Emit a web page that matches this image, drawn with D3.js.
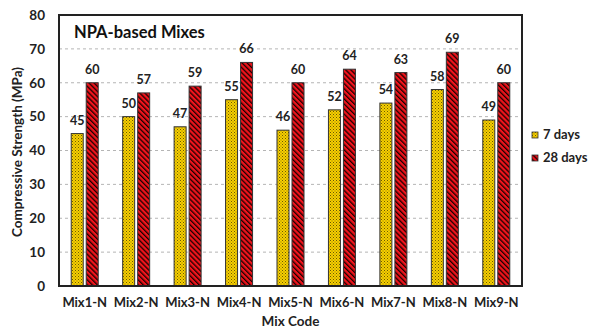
<!DOCTYPE html>
<html>
<head>
<meta charset="utf-8">
<script src="https://cdn.jsdelivr.net/npm/d3@7/dist/d3.min.js"></script>
<style>
  html, body { margin: 0; padding: 0; background: #fff; }
  svg { display: block; font-family: Lato, "Open Sans", sans-serif; }
</style>
</head>
<body>
<svg id="chart" width="592" height="331"></svg>
<script>
// Compressive strength of NPA-based mixes at 7 and 28 days
const mixes = ["Mix1-N", "Mix2-N", "Mix3-N", "Mix4-N", "Mix5-N", "Mix6-N", "Mix7-N", "Mix8-N", "Mix9-N"];
const days7 = [45, 50, 47, 55, 46, 52, 54, 58, 49];
const days28 = [60, 57, 59, 66, 60, 64, 63, 69, 60];
const seriesNames = ["7 days", "28 days"];
const yTicks = [0, 10, 20, 30, 40, 50, 60, 70, 80];

const svg = d3.select("#chart");
const m = { left: 59, right: 522, top: 15, bottom: 286 };

const defs = svg.append("defs");
// yellow fill with a fine dark dot grid
const pY = defs.append("pattern").attr("id", "dotsY").attr("patternUnits", "userSpaceOnUse")
  .attr("width", 3).attr("height", 3);
pY.append("rect").attr("width", 3).attr("height", 3).attr("fill", "#f7cf00");
pY.append("rect").attr("x", 0).attr("y", 0).attr("width", 1).attr("height", 1).attr("fill", "#6b5a00");
pY.append("rect").attr("x", 1.5).attr("y", 1.5).attr("width", 1).attr("height", 1).attr("fill", "#8a7300");
// red fill with dark diagonal hatching
const pR = defs.append("pattern").attr("id", "hatchR").attr("patternUnits", "userSpaceOnUse")
  .attr("width", 3.6).attr("height", 3.6).attr("patternTransform", "rotate(-45)");
pR.append("rect").attr("width", 3.6).attr("height", 3.6).attr("fill", "#f0141c");
pR.append("rect").attr("x", 0).attr("y", 0).attr("width", 1.3).attr("height", 3.6).attr("fill", "#1a0000");

const x0 = d3.scaleBand().domain(mixes).range([m.left, m.right]).paddingInner(0).paddingOuter(0);
const y = d3.scaleLinear().domain([0, 80]).range([m.bottom, m.top]);

// dashed grid
svg.append("g").selectAll("line").data(yTicks.filter(t => t > 0 && t < 80)).join("line")
  .attr("x1", m.left).attr("x2", m.right)
  .attr("y1", d => y(d)).attr("y2", d => y(d))
  .attr("stroke", "#b5b5b5").attr("stroke-width", 1).attr("stroke-dasharray", "3,3");

// y axis labels
const yAxis = d3.axisLeft(y).tickValues(yTicks).tickSize(0).tickPadding(14);
const gy = svg.append("g").attr("transform", `translate(${m.left},0)`).call(yAxis);
gy.select(".domain").remove();
gy.selectAll("text").attr("font-size", 13.5).attr("font-weight", "bold").attr("fill", "#222")
  .attr("font-family", "Lato, sans-serif");

// x axis labels
const xAxis = d3.axisBottom(x0).tickSize(0).tickPadding(12);
const gx = svg.append("g").attr("transform", `translate(0,${m.bottom})`).call(xAxis);
gx.select(".domain").remove();
gx.selectAll("text").attr("font-size", 13).attr("font-weight", "bold").attr("fill", "#222")
  .attr("font-family", "Lato, sans-serif");

// bars
const barW = 12, gap = 3;
const series = [
  { name: seriesNames[0], values: days7, fill: "url(#dotsY)", off: -barW - gap / 2 },
  { name: seriesNames[1], values: days28, fill: "url(#hatchR)", off: gap / 2 }
];
series.forEach(s => {
  const g = svg.append("g");
  g.selectAll("rect").data(mixes).join("rect")
    .attr("x", (d) => x0(d) + x0.bandwidth() / 2 + s.off)
    .attr("y", (d, i) => y(s.values[i]))
    .attr("width", barW)
    .attr("height", (d, i) => y(0) - y(s.values[i]))
    .attr("fill", s.fill)
    .attr("stroke", "#333").attr("stroke-width", 1);
  g.selectAll("text").data(mixes).join("text")
    .attr("x", (d) => x0(d) + x0.bandwidth() / 2 + s.off + barW / 2)
    .attr("y", (d, i) => y(s.values[i]) - 9)
    .attr("text-anchor", "middle")
    .attr("font-size", 12.5).attr("font-weight", "bold").attr("fill", "#222")
    .text((d, i) => s.values[i]);
});

// plot frame
svg.append("rect").attr("x", m.left).attr("y", m.top)
  .attr("width", m.right - m.left).attr("height", m.bottom - m.top)
  .attr("fill", "none").attr("stroke", "#222").attr("stroke-width", 2);

// panel title
svg.append("text").attr("x", 74).attr("y", 38)
  .attr("font-size", 16.5).attr("font-weight", "bold").attr("fill", "#111")
  .text("NPA-based Mixes");

// axis titles
svg.append("text").attr("transform", "translate(22,152) rotate(-90)")
  .attr("text-anchor", "middle").attr("font-size", 13.5).attr("font-weight", "bold").attr("fill", "#222")
  .text("Compressive Strength (MPa)");
svg.append("text").attr("x", (m.left + m.right) / 2).attr("y", 326)
  .attr("text-anchor", "middle").attr("font-size", 13.5).attr("font-weight", "bold").attr("fill", "#222")
  .text("Mix Code");

// legend
const leg = svg.append("g").selectAll("g").data(series).join("g")
  .attr("transform", (d, i) => `translate(532,${132 + i * 23})`);
leg.append("rect").attr("width", 6).attr("height", 6)
  .attr("fill", d => d.fill).attr("stroke", "#333").attr("stroke-width", 0.8);
leg.append("text").attr("x", 11).attr("y", 7)
  .attr("font-size", 13).attr("font-weight", "bold").attr("fill", "#222")
  .text(d => d.name);
</script>
</body>
</html>
